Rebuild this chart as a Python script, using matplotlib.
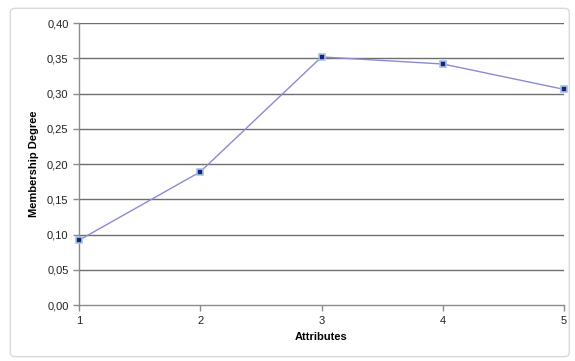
import matplotlib.pyplot as plt
from matplotlib.patches import FancyBboxPatch

attributes = [1, 2, 3, 4, 5]
membership = [0.092, 0.189, 0.352, 0.342, 0.306]
y_ticks = [0.00, 0.05, 0.10, 0.15, 0.20, 0.25, 0.30, 0.35, 0.40]
y_labels = ["0,00", "0,05", "0,10", "0,15", "0,20", "0,25", "0,30", "0,35", "0,40"]

plt.rcParams["font.family"] = ["Liberation Sans", "DejaVu Sans"]

fig = plt.figure(figsize=(5.75, 3.61), dpi=100)

# rounded chart frame, kept behind the axes
frame = FancyBboxPatch((0.018, 0.012), 0.972, 0.965,
                       boxstyle="round,pad=0,rounding_size=0.01",
                       transform=fig.transFigure, facecolor="white",
                       edgecolor="#d9d9d9", linewidth=1, zorder=-10)
fig.patches.append(frame)

ax = fig.add_axes([0.1374, 0.155, 0.8436, 0.781])
ax.set_facecolor("none")

for y in y_ticks[1:]:
    ax.axhline(y, color="#6e6e6e", linewidth=1, zorder=1)

ax.plot(attributes, membership, color="#8a8ad6", linewidth=1, zorder=3,
        marker="s", markersize=4.5, markerfacecolor="#1a237e",
        markeredgecolor="#a6c2e0", markeredgewidth=1.2, clip_on=False)

ax.set_xlim(1, 5)
ax.set_ylim(0, 0.40)
ax.set_xticks(attributes)
ax.set_yticks(y_ticks)
ax.set_yticklabels(y_labels)

for side in ["top", "right"]:
    ax.spines[side].set_visible(False)
for side in ["left", "bottom"]:
    ax.spines[side].set_color("#8c8c8c")
    ax.spines[side].set_linewidth(1)

ax.tick_params(axis="both", direction="out", length=4, width=1,
               color="#8c8c8c", labelsize=8, labelcolor="#222222")
ax.tick_params(axis="x", pad=4)

ax.set_xlabel("Attributes", fontsize=8, fontweight="bold", labelpad=4)
ax.set_ylabel("Membership Degree", fontsize=8, fontweight="bold", labelpad=6)

fig.savefig("out.png", dpi=100)
